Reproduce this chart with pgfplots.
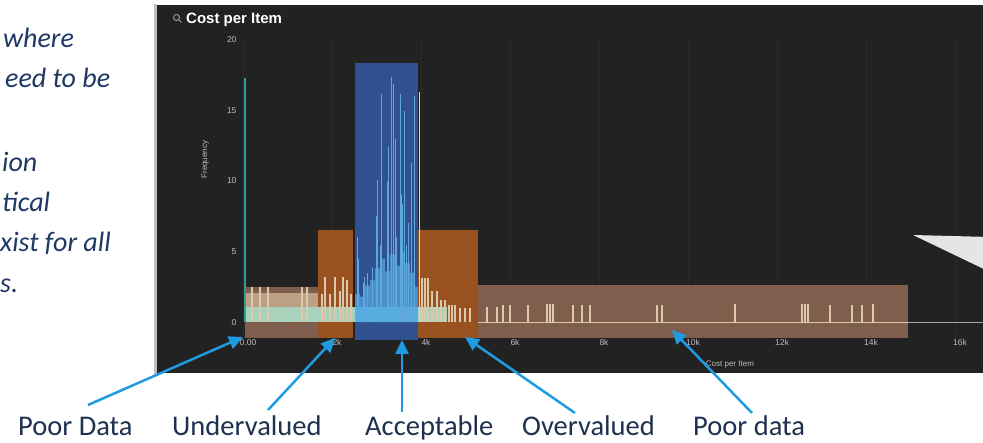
\documentclass[border=0pt]{standalone}
\usepackage{fontspec}
\setmainfont{Carlito}
\newfontfamily\uifont{Liberation Sans}
\usepackage{pgfplots}
\pgfplotsset{compat=1.18}
\usetikzlibrary{arrows.meta}

\definecolor{panelbg}{HTML}{222222}
\definecolor{gridc}{HTML}{2A2A2A}
\definecolor{tickc}{HTML}{BDBDBD}
\definecolor{bandpoor}{HTML}{7F5E4E}
\definecolor{bandover}{HTML}{98511F}
\definecolor{bandacc}{HTML}{30508F}
\definecolor{creamlayer}{HTML}{BBA086}
\definecolor{basegreen}{HTML}{A9D2BD}
\definecolor{cream}{HTML}{DCC8AA}
\definecolor{accbase}{HTML}{55AEE2}
\definecolor{mountain}{HTML}{4A90C8}
\definecolor{spike}{HTML}{5FA8DD}
\definecolor{tealc}{HTML}{2E9E96}
\definecolor{arrowblue}{HTML}{1F9BE2}
\definecolor{navy}{HTML}{1F3864}
\definecolor{labelnavy}{HTML}{1F3050}

\begin{document}
\begin{tikzpicture}
\useasboundingbox (0pt,0pt) rectangle (983pt,442pt);
\begin{scope}
\clip (0pt,0pt) rectangle (983pt,442pt);
\begin{scope}[x=1pt,y=1pt]
\fill[white] (0,0) rectangle (983,442);
% dashboard panel
\fill[black!25] (154,67) rectangle (157,438);
\fill[panelbg] (157,69) rectangle (990,437);
\draw[gray!80, line width=1pt] (176.5,424.5) circle (3);
\draw[gray!80, line width=1pt] (178.7,422.3) -- (181.5,419.5);
\node[anchor=base west, inner sep=0, text=white,
      font=\uifont\bfseries\fontsize{15}{15}\selectfont] at (186,418) {Cost per Item};
\end{scope}

\begin{axis}[
    at={(243pt,103pt)}, anchor=south west,
    scale only axis, width=740pt, height=299pt,
    xmin=0, xmax=16629, ymin=-1.2, ymax=20,
    axis line style={draw=none},
    tick style={draw=none},
    scaled x ticks=false,
    xtick={0,2000,4000,6000,8000,10000,12000,14000,16000},
    xticklabels={0.00,2k,4k,6k,8k,10k,12k,14k,16k},
    ytick={0,5,10,15,20},
    xmajorgrids, grid style={gridc, line width=0.8pt},
    /pgf/number format/assume math mode=true,
    tick label style={font=\uifont\fontsize{8.5}{9}\selectfont, text=tickc},
    yticklabel style={xshift=-3pt},
    xticklabel style={yshift=3pt, xshift=5pt},
    ylabel={Frequency},
    ylabel style={at={(axis description cs:-0.051,0.6)}, anchor=center,
                  font=\uifont\fontsize{8}{9}\selectfont, text=tickc},
    xlabel={Cost per Item},
    xlabel style={at={(axis description cs:0.658,-0.087)}, anchor=center,
                  font=\uifont\fontsize{8}{9}\selectfont, text=tickc},
    clip=false,
]
% range bands
\addplot[fill=bandpoor, draw=none] coordinates {(45,-1.13)(45,2.5)(1685,2.5)(1685,-1.13)};
\addplot[fill=bandover, draw=none] coordinates {(1685,-1.13)(1685,6.5)(2472,6.5)(2472,-1.13)};
\addplot[fill=bandacc, draw=none] coordinates {(2517,-1.3)(2517,18.4)(3933,18.4)(3933,-1.3)};
\addplot[fill=bandover, draw=none] coordinates {(3933,-1.13)(3933,6.5)(5281,6.5)(5281,-1.13)};
\addplot[fill=bandpoor, draw=none] coordinates {(5281,-1.13)(5281,2.6)(14944,2.6)(14944,-1.13)};
% zero line
\addplot[cream, line width=1pt] coordinates {(5281,0)(14944,0)};
\addplot[gray!70, line width=1pt] coordinates {(14944,0)(16629,0)};
% dense low bins
\addplot[fill=creamlayer, draw=none] coordinates {(45,0)(45,2.05)(1685,2.05)(1685,0)};
\addplot[fill=basegreen, draw=none] coordinates {(45,0)(45,1.06)(2517,1.06)(2517,0)};
\addplot[fill=basegreen!85!cream, draw=none] coordinates {(3933,0)(3933,1.06)(4584,1.06)(4584,0)};
% acceptable range bins
\addplot[const plot, fill=mountain, draw=none] coordinates {
    (2517,2.0)(2629,1.8)(2741,2.6)(2854,3.0)(2966,3.8)(3078,4.5)(3191,3.6)
    (3303,4.8)(3415,4.0)(3528,5.0)(3640,4.2)(3752,3.5)(3865,2.5)(3932,2.5)} \closedcycle;
\addplot[fill=accbase, draw=none] coordinates {(2517,0)(2517,1.1)(3932,1.1)(3932,0)};
\addplot[ycomb, spike, line width=1pt, no marks] coordinates {
    (2562,6.0)(2600,4.5)(2700,2.8)(2741,3.2)(2800,3.5)(2921,3.9)(3000,7.5)
    (3033,10.1)(3100,5.5)(3123,16.2)(3236,9.9)(3280,12.5)(3348,17.4)(3371,16.9)
    (3420,13.0)(3460,6.0)(3528,16.2)(3560,9.0)(3595,8.4)(3640,15.0)(3680,5.5)
    (3708,7.0)(3797,11.3)(3850,4.0)(3865,16.0)};
\addplot[ycomb, spike!40!white, line width=1pt, no marks] coordinates {(3977,16.3)};
% outlier bins
\addplot[ycomb, tealc, line width=2pt, no marks] coordinates {(45,17.3)};
\addplot[ycomb, cream, line width=1.1pt, no marks] coordinates {
    (202,2.5)(382,2.5)(562,2.5)(1326,2.5)(1438,2.5)
    (1775,2.0)(1843,3.2)(1955,2.0)(2067,3.2)(2180,2.2)(2247,3.2)(2337,3.0)(2427,2.0)
    (4022,3.1)(4090,3.1)(4157,3.1)(4247,2.2)(4359,2.2)(4449,1.6)(4539,1.6)
    (4629,1.2)(4696,1.2)(4764,1.2)(4876,1.0)(4988,1.0)(5101,1.0)
    (5483,1.1)(5707,1.1)(5842,1.2)(6000,1.2)(6404,1.2)(6831,1.3)(6898,1.3)
    (6966,1.3)(7415,1.2)(7617,1.2)(7797,1.2)(9303,1.2)(9415,1.2)(11055,1.3)
    (12561,1.3)(12628,1.3)(12696,1.3)(13190,1.2)(13684,1.2)(13909,1.2)(14156,1.3)};
\end{axis}

% callout pointer
\fill[black!10] (913pt,207pt) -- (990pt,205pt) -- (990pt,170pt) -- cycle;
\end{scope}

\begin{scope}[x=1pt,y=1pt]
% slide text on the left
\begin{scope}[every node/.style={anchor=base west, inner sep=0, text=navy,
      font=\itshape\fontsize{28}{28}\selectfont}]
\node at (3,394) {where};
\node at (5,354) {eed to be};
\node at (2,270) {ion};
\node at (2,230) {tical};
\node at (0,190) {xist for all};
\node at (0,149) {s.};
\end{scope}

% category labels
\begin{scope}[every node/.style={anchor=base west, inner sep=0, text=labelnavy,
      font=\fontsize{28.5}{28.5}\selectfont}]
\node at (18,6) {Poor Data};
\node at (172,6) {Undervalued};
\node at (365,6) {Acceptable};
\node at (522,6) {Overvalued};
\node at (693,6) {Poor data};
\end{scope}

% arrows
\begin{scope}[arrowblue, line width=2.5pt, -{Triangle[length=14pt, width=13pt]}]
\draw (88,37) -- (243,105);
\draw (268,32) -- (335,104);
\draw (402,30) -- (402,102);
\draw (575,29) -- (465,105);
\draw (752,29) -- (672,112);
\end{scope}
\end{scope}
\end{tikzpicture}
\end{document}
